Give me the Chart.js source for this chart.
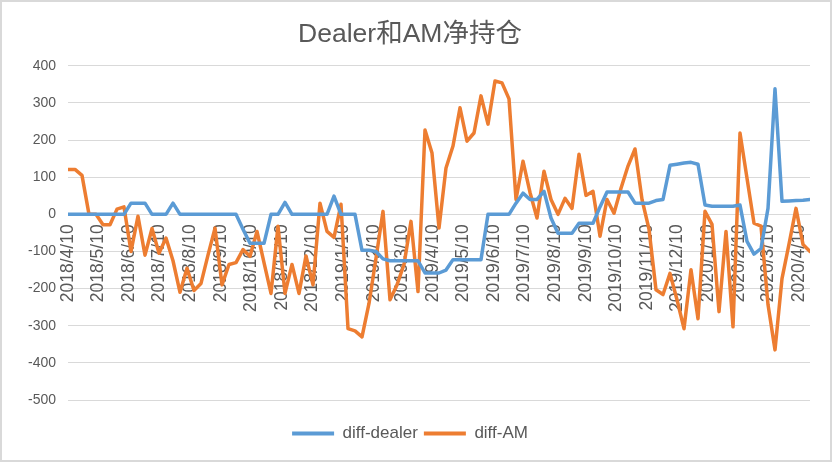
<!DOCTYPE html>
<html><head><meta charset="utf-8">
<script src="https://cdn.jsdelivr.net/npm/chart.js@4/dist/chart.umd.min.js"></script>
<style>
html,body{margin:0;padding:0;background:#fff;}
#wrap{position:relative;width:832px;height:462px;}
#frame{position:absolute;left:0;top:0;width:832px;height:462px;box-sizing:border-box;border:2px solid #d9d9d9;pointer-events:none;}
canvas{position:absolute;left:0;top:0;}
</style></head><body>
<div id="wrap"><canvas id="c" width="832" height="462"></canvas><div id="frame"></div></div>
<script>
const chartTitle = 'Dealer和AM净持仓';
const seriesNames = ['diff-dealer', 'diff-AM'];
const startDate = '2018/4/10';
const tickLabels = ['2018/4/10','2018/5/10','2018/6/10','2018/7/10','2018/8/10','2018/9/10','2018/10/10','2018/11/10','2018/12/10','2019/1/10','2019/2/10','2019/3/10','2019/4/10','2019/5/10','2019/6/10','2019/7/10','2019/8/10','2019/9/10','2019/10/10','2019/11/10','2019/12/10','2020/1/10','2020/2/10','2020/3/10','2020/4/10'];
const yTicks = [400,300,200,100,0,-100,-200,-300,-400,-500];

// weekly values starting 2018/4/10
const dealer = [0,0,0,0,0,0,0,0,0,30,30,30,0,0,0,30,0,0,0,0,0,0,0,0,0,-40,-78,-78,-78,0,0,32,0,0,0,0,0,0,49,0,0,0,-97,-97,-100,-120,-125,-125,-125,-125,-125,-158,-158,-158,-150,-122,-122,-122,-122,-122,0,0,0,0,30,57,40,40,62,-10,-51,-51,-51,-24,-24,-24,20,60,60,60,60,30,30,30,37,40,132,135,138,140,135,25,22,22,22,22,25,-73,-107,-92,16,338,35,36,37,38,40];
const am = [121,121,105,0,0,-28,-28,14,20,-100,-5,-110,-38,-105,-64,-125,-210,-145,-205,-186,-110,-37,-190,-135,-130,-95,-113,-46,-130,-213,-32,-213,-135,-213,-112,-190,30,-46,-62,27,-308,-314,-330,-240,-118,8,-230,-190,-135,-19,-208,227,165,-37,125,184,287,197,219,319,243,359,354,311,40,143,59,-10,116,40,0,43,16,162,51,62,-59,40,3,70,130,176,40,-40,-203,-216,-159,-230,-308,-149,-281,8,-27,-262,-46,-303,219,97,-24,-32,-243,-365,-173,-80,16,-81,-100];

function dayOf(s){const p=s.split('/').map(Number);return Date.UTC(p[0],p[1]-1,p[2])/86400000;}
const d0 = dayOf(startDate);
const tickDays = tickLabels.map(l => dayOf(l) - d0);
const toPts = arr => arr.map((v,i)=>({x:i*7,y:v}));

const FONT = '"Liberation Sans", "Noto Sans CJK SC", sans-serif';
const TXT = '#595959';

new Chart(document.getElementById('c'), {
  type: 'line',
  data: { datasets: [
    { label: seriesNames[0], data: toPts(dealer), borderColor:'#5B9BD5', backgroundColor:'#5B9BD5', borderWidth:3.5, pointRadius:0, tension:0, borderJoinStyle:'round', borderCapStyle:'round' },
    { label: seriesNames[1], data: toPts(am), borderColor:'#ED7D31', backgroundColor:'#ED7D31', borderWidth:3.5, pointRadius:0, tension:0, borderJoinStyle:'round', borderCapStyle:'round' }
  ]},
  options: {
    responsive:false, animation:false, devicePixelRatio:1,
    layout:{ padding:{ top:4, left:10, right:22, bottom:10 } },
    plugins:{
      tooltip:{enabled:false},
      title:{ display:true, text:chartTitle, color:TXT, font:{family:FONT, size:26.5, weight:'normal'}, padding:{top:15, bottom:15} },
      legend:{ position:'bottom', labels:{ color:TXT, font:{family:FONT, size:17}, boxWidth:42, boxHeight:4, padding:6,
        sort:(a,b)=>a.datasetIndex-b.datasetIndex,
        generateLabels:(chart)=>Chart.defaults.plugins.legend.labels.generateLabels(chart).map(l=>Object.assign(l,{lineWidth:0})) } }
    },
    scales:{
      x:{ type:'linear', position:{y:0}, min:0, max:(dealer.length-1)*7,
        grid:{display:false, drawTicks:false}, border:{display:true, color:'#d9d9d9', width:1},
        afterBuildTicks:(s)=>{ s.ticks = tickDays.map(v=>({value:v})); },
        ticks:{ autoSkip:false, minRotation:90, maxRotation:90, padding:10, color:TXT, font:{family:FONT, size:17.5},
          callback:(v)=>{ const i=tickDays.indexOf(v); return i>=0?tickLabels[i]:''; } } },
      xGap:{ type:'linear', position:'bottom', display:true, grid:{display:false, drawTicks:false}, border:{display:false},
        ticks:{display:false}, afterFit:(s)=>{ s.height = 19; } },
      y:{ min:-500, max:400, grid:{color:'#d9d9d9', lineWidth:1, drawTicks:false}, border:{display:false},
        afterBuildTicks:(s)=>{ s.ticks = yTicks.map(v=>({value:v})); },
        afterFit:(s)=>{ s.width = 58; },
        ticks:{ padding:12, color:TXT, font:{family:FONT, size:14} } }
    }
  }
});
</script>
</body></html>
